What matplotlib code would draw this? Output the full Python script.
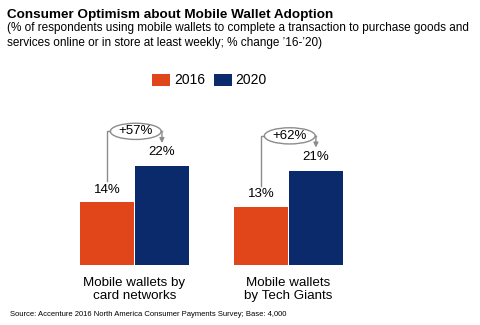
import matplotlib.pyplot as plt
from matplotlib.patches import Ellipse

categories = ['Mobile wallets by\ncard networks', 'Mobile wallets\nby Tech Giants']
years = ['2016', '2020']
share_2016 = [14, 13]
share_2020 = [22, 21]
changes = ['+57%', '+62%']

ORANGE = '#E0461A'
NAVY = '#0B2A6C'
GREY = '#8C8C8C'

W, H = 480, 325
plt.rcParams['font.family'] = ['Liberation Sans', 'DejaVu Sans']

fig = plt.figure(figsize=(W / 100, H / 100), dpi=100)

# axes spans the full width; baseline sits 265px from the top
base_px, top_px = 265, 60
ax = fig.add_axes([0, (H - base_px) / H, 1, (base_px - top_px) / H])
ax.set_xlim(-134.5 / 154, (W - 134.5) / 154)
ax.set_ylim(0, (base_px - top_px) / 4.5)
ax.axis('off')

bw = 0.35
off = 0.178
xs = range(len(categories))
b1 = ax.bar([x - off for x in xs], share_2016, width=bw, color=ORANGE, label=years[0])
b2 = ax.bar([x + off for x in xs], share_2020, width=bw, color=NAVY, label=years[1])

for x, v16, v20, ch in zip(xs, share_2016, share_2020, changes):
    ax.annotate(f'{v16}%', (x - off, v16), xytext=(0, 4.5), textcoords='offset points',
                ha='center', va='bottom', fontsize=9.5)
    ax.annotate(f'{v20}%', (x + off, v20), xytext=(0, 5.5), textcoords='offset points',
                ha='center', va='bottom', fontsize=9.5)

    # change bubble with bracket from the 2016 label to the 2020 label
    cy = v20 + 7.7
    cx = x + 0.008
    ew, eh = 0.33, 3.6
    ax.add_patch(Ellipse((cx, cy), ew, eh, facecolor='white', edgecolor=GREY, lw=1))
    ax.text(cx, cy, ch, ha='center', va='center', fontsize=9.5)
    ax.plot([x - off, x - off, cx - ew / 2], [v16 + 4.6, cy, cy], color=GREY, lw=1)
    ax.plot([cx + ew / 2, x + off], [cy, cy], color=GREY, lw=1)
    ax.annotate('', xy=(x + off, v20 + 5.1), xytext=(x + off, cy),
                arrowprops=dict(arrowstyle='-|>', color=GREY, lw=1, mutation_scale=7,
                                shrinkA=0, shrinkB=0))

    ax.text(x, -2.6, categories[x], ha='center', va='top', fontsize=9.6, linespacing=1.1)

fig.legend(handles=[b1, b2], loc='center', bbox_to_anchor=(209.5 / W, 1 - 80.5 / H),
           ncol=2, frameon=False, fontsize=10, handlelength=1.3, handleheight=0.95,
           handletextpad=0.25, columnspacing=0.65, borderpad=0)

fig.text(7 / W, 1 - 18 / H, 'Consumer Optimism about Mobile Wallet Adoption',
         fontsize=9.7, fontweight='bold', va='baseline')
subtitle = ['(% of respondents using mobile wallets to complete a transaction to purchase goods and',
            'services online or in store at least weekly; % change \u201916-\u201920)']
for i, line in enumerate(subtitle):
    fig.text(7 / W, 1 - (31 + 15 * i) / H, line, fontsize=8.5, va='baseline')
fig.text(10 / W, 1 - 316 / H,
         'Source: Accenture 2016 North America Consumer Payments Survey; Base: 4,000',
         fontsize=5.5, va='baseline')

fig.savefig('out.png', dpi=100)
